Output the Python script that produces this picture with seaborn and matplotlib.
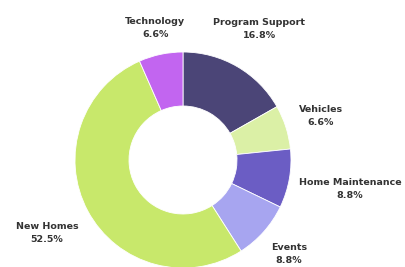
import numpy as np
import seaborn as sns
import matplotlib.pyplot as plt

# budget split, clockwise from 12 o'clock
categories = ['Program Support', 'Vehicles', 'Home Maintenance', 'Events',
              'New Homes', 'Technology']
shares = [16.8, 6.6, 8.8, 8.8, 52.5, 6.6]
colors = ['#4b4577', '#dbf0a6', '#6b5dc4', '#a7a5f0', '#c8e86b', '#c265f0']
# how far out each label sits (in pie radii)
label_dist = [1.40, 1.34, 1.57, 1.31, 1.43, 1.25]

sns.set_theme(style='white')
plt.rcParams['font.family'] = ['DejaVu Sans']

fig = plt.figure(figsize=(4.06, 2.67), dpi=100)
ax = fig.add_axes([0, 0, 1, 1])

wedges, _ = ax.pie(shares, colors=colors, startangle=90, counterclock=False,
                   radius=1.0,
                   wedgeprops=dict(width=0.5, edgecolor='white', linewidth=0.6))

for w, name, val, d in zip(wedges, categories, shares, label_dist):
    mid = np.deg2rad((w.theta1 + w.theta2) / 2)
    x, y = d * np.cos(mid), d * np.sin(mid)
    ax.text(x, y, f'{name}\n{val:.1f}%', ha='center', va='center',
            fontsize=6.8, fontweight='bold', color='#333333',
            linespacing=1.55)

ax.set_aspect('auto')
ax.set_xlim(-183 / 108, (406 - 183) / 108)
ax.set_ylim(-107 / 108, 160 / 108)
ax.axis('off')

fig.savefig('out.png', dpi=100)
